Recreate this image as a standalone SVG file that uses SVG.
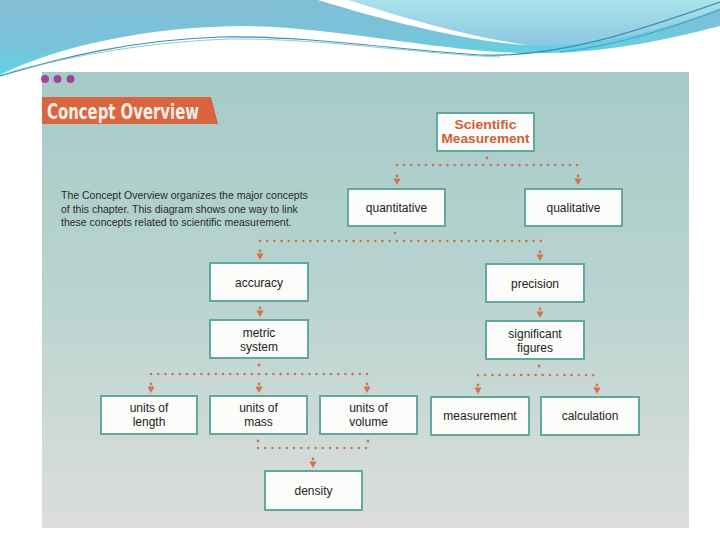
<svg xmlns="http://www.w3.org/2000/svg" width="720" height="540" viewBox="0 0 720 540">
<defs>
<linearGradient id="blue" x1="0" y1="0" x2="0.3" y2="1">
<stop offset="0" stop-color="#86bcd4"/>
<stop offset="0.6" stop-color="#76c4da"/>
<stop offset="1" stop-color="#58d8e8"/>
</linearGradient>
<linearGradient id="cyan" x1="0" y1="0" x2="0" y2="1">
<stop offset="0" stop-color="#a9e2ea"/>
<stop offset="1" stop-color="#8cc8e2"/>
</linearGradient>
<linearGradient id="page" x1="0" y1="0" x2="0" y2="1">
<stop offset="0" stop-color="#a6cbc7"/>
<stop offset="0.45" stop-color="#b7d3cf"/>
<stop offset="1" stop-color="#dcdedb"/>
</linearGradient>
<path id="ah" d="M-3.6,-6.5 L3.6,-6.5 L0,0 Z"/>
<style>
.box{fill:#fcfcfa;stroke:#62a7a0;stroke-width:2}
.t{font-family:"Liberation Sans",Arial,sans-serif;font-size:12px;fill:#222;text-anchor:middle}
.h{font-family:"Liberation Sans",Arial,sans-serif;font-size:12px;font-weight:bold;fill:#cf5f38;text-anchor:middle}
.d{font-family:"Liberation Sans",Arial,sans-serif;font-size:10.5px;fill:#2a2a2a}
.dot{fill:none;stroke:#c9764f;stroke-width:2.6;stroke-linecap:round;stroke-dasharray:0 7.2}
.ar{fill:#d0744a}
</style>
</defs>
<rect width="720" height="540" fill="#ffffff"/>
<!-- top banner -->
<path d="M0,0 H720 V26 C650,44 590,55 520,53 C430,50 330,26 240,26 C150,27 60,45 0,75 Z" fill="url(#blue)"/>
<path d="M330,0 C400,20 470,40 530,45 C600,48 670,28 720,8 V0 Z" fill="url(#cyan)"/>
<path d="M318,0 L348,0 C410,20 470,37 528,45 C470,42 390,22 318,0 Z" fill="#ffffff"/>
<path d="M0,76 C60,58 130,40 220,37 C300,35 400,50 480,55 C560,58 640,30 720,2" fill="none" stroke="#3d8fae" stroke-width="1.2"/>
<path d="M10,72 C80,54 150,42 230,39 C320,38 420,54 500,57" fill="none" stroke="#7fb7c8" stroke-width="0.8"/>
<path d="M560,52 C620,45 670,28 720,10" fill="none" stroke="#3aa6c8" stroke-width="1"/>
<!-- page -->
<rect x="42" y="72" width="647" height="456" fill="url(#page)"/>
<circle cx="45" cy="79" r="4" fill="#a3449b"/>
<circle cx="57.5" cy="79" r="4" fill="#a3449b"/>
<circle cx="70.5" cy="79" r="4" fill="#a3449b"/>
<path d="M42,97 L211,97 L218,124 L42,124 Z" fill="#d9653e"/>
<text x="47" y="119" font-family="'DejaVu Sans Condensed','DejaVu Sans',sans-serif" font-weight="bold" font-size="21" fill="#fbeee6" textLength="152" lengthAdjust="spacingAndGlyphs">Concept Overview</text>
<text class="d" x="61" y="199">The Concept Overview organizes the major concepts</text>
<text class="d" x="61" y="213">of this chapter. This diagram shows one way to link</text>
<text class="d" x="61" y="226">these concepts related to scientific measurement.</text>
<!-- connectors -->
<g id="connectors">
<circle class="ar" cx="487" cy="158" r="1.4"/>
<path class="dot" d="M397,165 H579"/>
<circle class="ar" cx="395" cy="233" r="1.4"/>
<path class="dot" d="M260,241 H541"/>
<circle class="ar" cx="259" cy="365" r="1.4"/>
<path class="dot" d="M151,374 H368"/>
<circle class="ar" cx="539" cy="366" r="1.4"/>
<path class="dot" d="M478,375 H598"/>
<circle class="ar" cx="258" cy="441" r="1.4"/>
<circle class="ar" cx="368" cy="441" r="1.4"/>
<path class="dot" d="M258,448 H369"/>
<g class="ar">
<circle cx="397" cy="176" r="1.4"/><use href="#ah" x="397" y="185"/>
<circle cx="578" cy="176" r="1.4"/><use href="#ah" x="578" y="185"/>
<circle cx="260" cy="251" r="1.4"/><use href="#ah" x="260" y="260"/>
<circle cx="540" cy="252" r="1.4"/><use href="#ah" x="540" y="261"/>
<circle cx="260" cy="308" r="1.4"/><use href="#ah" x="260" y="317"/>
<circle cx="540" cy="309" r="1.4"/><use href="#ah" x="540" y="318"/>
<circle cx="151" cy="384" r="1.4"/><use href="#ah" x="151" y="393"/>
<circle cx="259" cy="384" r="1.4"/><use href="#ah" x="259" y="393"/>
<circle cx="367" cy="384" r="1.4"/><use href="#ah" x="367" y="393"/>
<circle cx="478" cy="385" r="1.4"/><use href="#ah" x="478" y="394"/>
<circle cx="597" cy="385" r="1.4"/><use href="#ah" x="597" y="394"/>
<circle cx="313" cy="459" r="1.4"/><use href="#ah" x="313" y="468"/>
</g>
</g>
<!-- nodes -->
<g id="n-sci"><rect class="box" x="437" y="113" width="97" height="38"/><text class="h" x="485.5" y="129" textLength="62" lengthAdjust="spacingAndGlyphs">Scientific</text><text class="h" x="485.5" y="143" textLength="88" lengthAdjust="spacingAndGlyphs">Measurement</text></g>
<g id="n-quant"><rect class="box" x="348" y="189" width="97" height="37"/><text class="t" x="396.5" y="212">quantitative</text></g>
<g id="n-qual"><rect class="box" x="525" y="189" width="97" height="37"/><text class="t" x="573.5" y="212">qualitative</text></g>
<g id="n-acc"><rect class="box" x="210" y="263" width="98" height="38"/><text class="t" x="259" y="287">accuracy</text></g>
<g id="n-prec"><rect class="box" x="486" y="264" width="98" height="38"/><text class="t" x="535" y="288">precision</text></g>
<g id="n-metric"><rect class="box" x="210" y="320" width="98" height="38"/><text class="t" x="259" y="337">metric</text><text class="t" x="259" y="351">system</text></g>
<g id="n-sig"><rect class="box" x="486" y="321" width="98" height="38"/><text class="t" x="535" y="338">significant</text><text class="t" x="535" y="352">figures</text></g>
<g id="n-length"><rect class="box" x="101" y="396" width="96" height="38"/><text class="t" x="149" y="412">units of</text><text class="t" x="149" y="426">length</text></g>
<g id="n-mass"><rect class="box" x="210" y="396" width="97" height="38"/><text class="t" x="258.5" y="412">units of</text><text class="t" x="258.5" y="426">mass</text></g>
<g id="n-volume"><rect class="box" x="320" y="396" width="97" height="38"/><text class="t" x="368.5" y="412">units of</text><text class="t" x="368.5" y="426">volume</text></g>
<g id="n-meas"><rect class="box" x="431" y="397" width="98" height="38"/><text class="t" x="480" y="420">measurement</text></g>
<g id="n-calc"><rect class="box" x="541" y="397" width="98" height="38"/><text class="t" x="590" y="420">calculation</text></g>
<g id="n-density"><rect class="box" x="265" y="471" width="97" height="39"/><text class="t" x="313.5" y="495">density</text></g>
</svg>
